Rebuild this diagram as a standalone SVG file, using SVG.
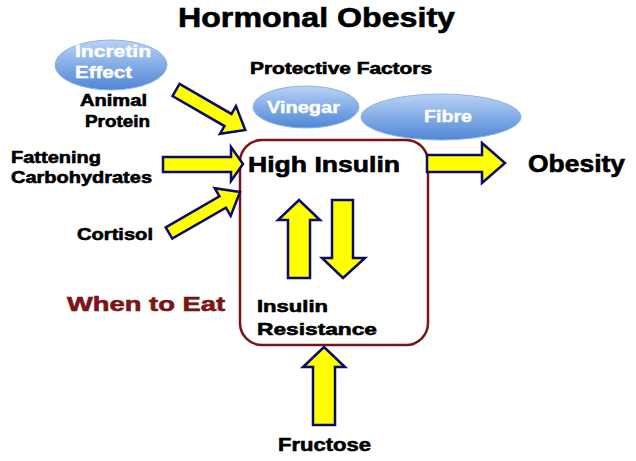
<svg xmlns="http://www.w3.org/2000/svg" width="636" height="461" viewBox="0 0 636 461">
<defs>
<linearGradient id="blue" x1="0" y1="0" x2="0" y2="1">
<stop offset="0" stop-color="#b9d3f6"/>
<stop offset="1" stop-color="#4f86d6"/>
</linearGradient>
<style>
text{font-family:"Liberation Sans",Arial,sans-serif;font-weight:bold;fill:#000;stroke:#000;stroke-width:0.6}
.w{fill:#fff;stroke:#fff;stroke-width:0.4}
.red{fill:#7b1515;stroke:#7b1515}
.ell{fill:url(#blue);stroke:#8fb3e3;stroke-width:1}
.arr{fill:#ffff00;stroke:#0b0b6b;stroke-width:2.5;stroke-linejoin:miter}
</style>
</defs>
<rect width="636" height="461" fill="#fff"/>
<text x="178" y="27" font-size="28" textLength="277" lengthAdjust="spacingAndGlyphs">Hormonal Obesity</text>
<text x="250" y="74" font-size="16" textLength="182" lengthAdjust="spacingAndGlyphs">Protective Factors</text>
<g id="incretin">
<ellipse class="ell" cx="111" cy="65" rx="56" ry="25"/>
<text class="w" x="75" y="57" font-size="16" textLength="76" lengthAdjust="spacingAndGlyphs">Incretin</text>
<text class="w" x="75" y="78" font-size="16" textLength="57" lengthAdjust="spacingAndGlyphs">Effect</text>
</g>
<g id="vinegar">
<ellipse class="ell" cx="306" cy="107" rx="53" ry="21"/>
<text class="w" x="267" y="113" font-size="16" textLength="73" lengthAdjust="spacingAndGlyphs">Vinegar</text>
</g>
<g id="fibre">
<ellipse class="ell" cx="441" cy="117" rx="80" ry="23"/>
<text class="w" x="424" y="122" font-size="16" textLength="48" lengthAdjust="spacingAndGlyphs">Fibre</text>
</g>
<g id="animal-protein">
<text x="80" y="106" font-size="16" textLength="67" lengthAdjust="spacingAndGlyphs">Animal</text>
<text x="85" y="127" font-size="16" textLength="65" lengthAdjust="spacingAndGlyphs">Protein</text>
</g>
<g id="fattening">
<text x="11" y="163" font-size="17" textLength="90" lengthAdjust="spacingAndGlyphs">Fattening</text>
<text x="11" y="183" font-size="17" textLength="141" lengthAdjust="spacingAndGlyphs">Carbohydrates</text>
</g>
<g id="cortisol">
<text x="77" y="240" font-size="17" textLength="76" lengthAdjust="spacingAndGlyphs">Cortisol</text>
</g>
<g id="when">
<text class="red" x="67" y="311" font-size="20" textLength="158" lengthAdjust="spacingAndGlyphs">When to Eat</text>
</g>
<g id="high-insulin">
<rect x="240" y="140" width="188" height="205" rx="22" fill="none" stroke="#7b1515" stroke-width="2.5"/>
<text x="248" y="172" font-size="22" textLength="152" lengthAdjust="spacingAndGlyphs">High Insulin</text>
<text x="257" y="312" font-size="17" textLength="71" lengthAdjust="spacingAndGlyphs">Insulin</text>
<text x="257" y="335" font-size="17" textLength="120" lengthAdjust="spacingAndGlyphs">Resistance</text>
</g>
<g id="obesity">
<text x="528" y="172" font-size="23" textLength="97" lengthAdjust="spacingAndGlyphs">Obesity</text>
</g>
<g id="fructose">
<text x="278" y="451" font-size="19" textLength="93" lengthAdjust="spacingAndGlyphs">Fructose</text>
</g>
<g id="connectors">
<polygon class="arr" transform="translate(176,90) rotate(30)" points="0,-7 60,-7 60,-16 80,0 60,16 60,7 0,7"/>
<polygon class="arr" points="163,157 231,157 231,147 243,164 231,181 231,172 163,172"/>
<polygon class="arr" transform="translate(169,233) rotate(-30)" points="0,-6.5 62,-6.5 62,-16 82,0 62,16 62,6.5 0,6.5"/>
<polygon class="arr" points="427,155 482,155 482,143 505,163 482,183 482,172 427,172"/>
<polygon class="arr" points="288,278 288,220 278,220 299,200 320,220 310,220 310,278"/>
<polygon class="arr" points="332,200 353,200 353,258 365,258 343,278 322,258 332,258"/>
<polygon class="arr" points="313,425 313,367 303,367 324,347 345,367 335,367 335,425"/>
</g>
</svg>
